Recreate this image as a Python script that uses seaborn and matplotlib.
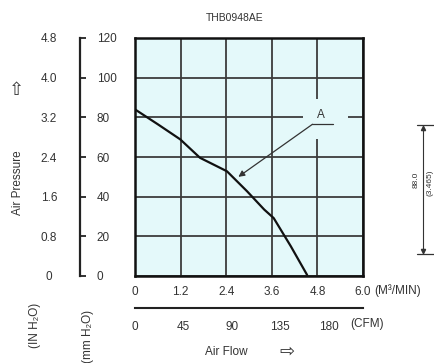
import matplotlib
matplotlib.use("Agg")
import matplotlib.pyplot as plt
import seaborn as sns
import pandas as pd
from matplotlib.patches import Rectangle
from matplotlib.lines import Line2D

sns.set_theme(style="white")
plt.rcParams['font.family'] = ['Liberation Sans', 'DejaVu Sans']

# ---- data ----
flow_m3min = [0.0, 0.6, 1.19, 1.71, 2.42, 2.95, 3.4, 3.65, 4.1, 4.53]
pressure_mmh2o = [84.0, 76.5, 68.9, 59.6, 52.8, 42.7, 33.5, 29.2, 15.0, 0.5]
x_ticks_m3 = [0, 1.2, 2.4, 3.6, 4.8, 6.0]
x_labels_m3 = ["0", "1.2", "2.4", "3.6", "4.8", "6.0"]
cfm_ticks = [0, 45, 90, 135, 180]
mm_ticks = [0, 20, 40, 60, 80, 100, 120]
in_ticks = [0, 0.8, 1.6, 2.4, 3.2, 4.0, 4.8]
in_labels = ["0", "0.8", "1.6", "2.4", "3.2", "4.0", "4.8"]
title = "THB0948AE"
curve_label = "A"

W, H = 434, 363
fig = plt.figure(figsize=(W / 100, H / 100), dpi=100)
fig.patch.set_facecolor("white")

def fx(px):
    return px / W

def fy(py):
    return 1 - py / H

L, R, T, B = 135, 363, 38, 276
bg = "#E4F9FA"
gridc = "#3c3c3c"
txtc = "#333333"
fs = 8.5

ax = fig.add_axes([fx(L), fy(B), fx(R) - fx(L), fy(T) - fy(B)])
ax.set_facecolor(bg)
df = pd.DataFrame({"flow": flow_m3min, "pressure": pressure_mmh2o})
sns.lineplot(data=df, x="flow", y="pressure", ax=ax, color="#111111", lw=1.6, zorder=3)
ax.set_xlim(0, 6.0)
ax.set_ylim(0, 120)
ax.set_xticks(x_ticks_m3)
ax.set_xticklabels(x_labels_m3)
ax.set_yticks(mm_ticks)
ax.set_yticklabels([])
ax.grid(True, color=gridc, lw=1.3)
ax.set_axisbelow(True)
ax.tick_params(axis="both", length=0, labelsize=fs, labelcolor=txtc)
ax.tick_params(axis="x", pad=7)
ax.set_xlabel("")
ax.set_ylabel("")
for s in ax.spines.values():
    s.set_visible(True)
    s.set_color("#111111")
    s.set_linewidth(1.8)

# gap behind label A
ax.add_patch(Rectangle((4.43, 69), 1.17, 20, facecolor=bg, edgecolor="none", zorder=1.5))
ax.annotate("", xy=(2.72, 50.0), xytext=(4.67, 76.5),
            arrowprops=dict(arrowstyle="-|>", lw=0.9, color="#333333", mutation_scale=9,
                            shrinkA=0, shrinkB=0), zorder=4)
ax.plot([4.67, 5.22], [76.5, 76.5], color="#333333", lw=0.9, zorder=4)
ax.text(4.9, 81, curve_label, ha="center", va="center", fontsize=fs, color=txtc, zorder=4)

# mm H2O axis
ax_mm = fig.add_axes([fx(70), fy(B), fx(80) - fx(70), fy(T) - fy(B)])
ax_mm.set_ylim(0, 120)
ax_mm.patch.set_visible(False)
for k, s in ax_mm.spines.items():
    s.set_visible(k == "right")
ax_mm.spines["right"].set_color("#222222")
ax_mm.spines["right"].set_linewidth(1.6)
ax_mm.set_xticks([])
ax_mm.yaxis.tick_right()
ax_mm.set_yticks(mm_ticks)
ax_mm.set_yticklabels([str(v) for v in mm_ticks])
ax_mm.tick_params(axis="y", direction="out", length=4, width=1.3, color="#222222",
                  pad=8, labelsize=fs, labelcolor=txtc)
for lab in ax_mm.get_yticklabels():
    lab.set_horizontalalignment("left")

# IN H2O labels
ax_in = fig.add_axes([fx(40), fy(B), fx(49) - fx(40), fy(T) - fy(B)])
ax_in.set_ylim(0, 4.8)
ax_in.patch.set_visible(False)
for s in ax_in.spines.values():
    s.set_visible(False)
ax_in.set_xticks([])
ax_in.yaxis.tick_right()
ax_in.set_yticks(in_ticks)
ax_in.set_yticklabels(in_labels)
ax_in.tick_params(axis="y", length=0, pad=0, labelsize=fs, labelcolor=txtc)
for lab in ax_in.get_yticklabels():
    lab.set_horizontalalignment("center")

# CFM axis
ax_cfm = fig.add_axes([fx(L), fy(308), fx(R) - fx(L), 0.01])
ax_cfm.set_xlim(0, 6.0 * 35.3147)
ax_cfm.patch.set_visible(False)
for k, s in ax_cfm.spines.items():
    s.set_visible(k == "bottom")
ax_cfm.spines["bottom"].set_color("#222222")
ax_cfm.spines["bottom"].set_linewidth(1.5)
ax_cfm.set_yticks([])
ax_cfm.set_xticks(cfm_ticks)
ax_cfm.set_xticklabels([str(v) for v in cfm_ticks])
ax_cfm.tick_params(axis="x", direction="in", length=6, width=1.2, color="#222222",
                   pad=9, labelsize=fs, labelcolor=txtc)

# texts
fig.text(fx(235), fy(18), title, ha="center", va="center", fontsize=7.5, color=txtc)
fig.text(fx(374), fy(291), "(M³/MIN)", ha="left", va="center", fontsize=fs, color=txtc)
fig.text(fx(350), fy(324), "(CFM)", ha="left", va="center", fontsize=fs, color=txtc)
fig.text(fx(226), fy(352), "Air Flow", ha="center", va="center", fontsize=fs, color=txtc)
fig.text(fx(287), fy(352), "⇨", ha="center", va="center", fontsize=13, color=txtc,
         family=["DejaVu Sans"])
fig.text(fx(18), fy(183), "Air Pressure", ha="center", va="center", rotation=90,
         fontsize=fs, color=txtc)
fig.text(fx(16), fy(90), "⇧", ha="center", va="center", fontsize=13, color=txtc,
         family=["DejaVu Sans"])
fig.text(fx(35), fy(325), "(IN H₂O)", ha="center", va="center", rotation=90,
         fontsize=fs, color=txtc)
fig.text(fx(88), fy(336), "(mm H₂O)", ha="center", va="center", rotation=90,
         fontsize=fs, color=txtc)

# dimension marker at right
fig.add_artist(Line2D([fx(417), fx(434)], [fy(125), fy(125)], color="#333333", lw=0.9))
fig.add_artist(Line2D([fx(417), fx(434)], [fy(254), fy(254)], color="#333333", lw=0.9))
fig.add_artist(Line2D([fx(423), fx(423)], [fy(125), fy(254)], color="#333333", lw=0.8))
fig.add_artist(Line2D([fx(423)], [fy(128)], marker="^", ms=3, color="#333333", lw=0))
fig.add_artist(Line2D([fx(423)], [fy(251)], marker="v", ms=3, color="#333333", lw=0))
fig.text(fx(416), fy(180), "88.0", ha="center", va="center", rotation=90, fontsize=6, color=txtc)
fig.text(fx(430), fy(183), "(3.465)", ha="center", va="center", rotation=90, fontsize=6, color=txtc)

fig.savefig("out.png", dpi=100, facecolor="white")
